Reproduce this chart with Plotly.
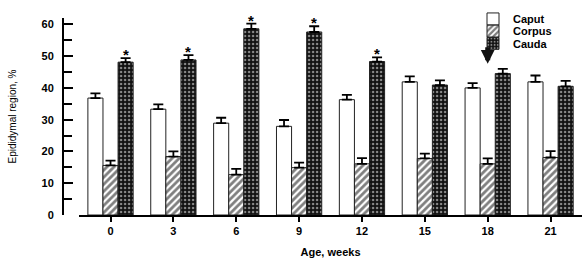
import plotly.graph_objects as go

ages = ["0", "3", "6", "9", "12", "15", "18", "21"]
caput = [36.8, 33.3, 28.9, 27.9, 36.3, 41.9, 40.0, 41.9]
caput_err = [1.5, 1.5, 1.7, 2.0, 1.5, 1.7, 1.5, 2.0]
corpus = [15.6, 18.4, 12.7, 14.9, 16.1, 17.8, 16.1, 18.1]
corpus_err = [1.5, 1.6, 1.8, 1.6, 1.8, 1.5, 1.7, 2.0]
cauda = [48.1, 48.8, 58.6, 57.6, 48.3, 40.9, 44.5, 40.5]
cauda_err = [1.3, 1.5, 1.6, 1.8, 1.3, 1.5, 1.5, 1.7]
significant = ["0", "3", "6", "9", "12"]
arrow_age = "18"

font_family = "Liberation Sans, Arial, sans-serif"

def err(vals):
    return dict(type="data", symmetric=False, array=vals, arrayminus=[0] * len(vals),
                color="black", thickness=1.8, width=5)

fig = go.Figure()
fig.add_trace(go.Bar(name="Caput", x=ages, y=caput, error_y=err(caput_err), legend="legend",
                     marker=dict(color="white", line=dict(color="#222", width=1))))
fig.add_trace(go.Bar(name="Corpus", x=ages, y=corpus, error_y=err(corpus_err), legend="legend2",
                     marker=dict(color="white", line=dict(color="#222", width=1),
                                 pattern=dict(shape="/", fgcolor="black", bgcolor="white",
                                              size=5, solidity=0.55))))
fig.add_trace(go.Bar(name="Cauda", x=ages, y=cauda, error_y=err(cauda_err), legend="legend3",
                     marker=dict(color="black", line=dict(color="#222", width=1),
                                 pattern=dict(shape=".", fgcolor="white", bgcolor="#111",
                                              size=4, solidity=0.3))))

for a in significant:
    i = ages.index(a)
    fig.add_annotation(x=i, y=cauda[i] + cauda_err[i], text="*", showarrow=False,
                       xref="x", yref="y",
                       xshift=15, yanchor="bottom", yshift=-7,
                       font=dict(family=font_family, size=15, color="black", weight="bold"))

i = ages.index(arrow_age)
fig.add_annotation(x=i, y=cauda[i] + cauda_err[i] + 1.6, ax=0, ay=-18,
                   xref="x", yref="y",
                   showarrow=True, arrowhead=2, arrowsize=0.55, arrowwidth=5,
                   arrowcolor="#111", text="")

def leg(ypx):
    return dict(xref="paper", yref="paper", x=0.79, y=(215 - ypx) / 210,
                xanchor="left", yanchor="middle", bgcolor="rgba(0,0,0,0)",
                borderwidth=0, font=dict(size=11, weight="bold"), itemwidth=30)

fig.update_layout(
    width=586, height=260,
    margin=dict(l=63, r=4, t=5, b=45),
    paper_bgcolor="white", plot_bgcolor="white",
    barmode="group", bargap=0.28, bargroupgap=0,
    font=dict(family=font_family, size=11, color="black"),
    showlegend=True,
    legend=leg(6), legend2=leg(19), legend3=leg(32),
    xaxis=dict(type="category", domain=[0.031, 1], range=[-0.5, 7.5], automargin=False,
               showline=True, linecolor="black",
               linewidth=2, ticks="outside", ticklen=5, tickwidth=2, tickcolor="black",
               tickfont=dict(size=11, weight="bold"), showgrid=False, zeroline=False,
               title=dict(text="Age, weeks", font=dict(size=11, weight="bold"), standoff=12)),
    yaxis=dict(anchor="free", position=0, range=[0, 62], automargin=False,
               showline=True, linecolor="black",
               linewidth=2, ticks="inside", ticklen=9, tickwidth=2, tickcolor="black",
               tickvals=[0, 10, 20, 30, 40, 50, 60], ticklabelstandoff=6,
               minor=dict(tickvals=[5, 15, 25, 35, 45, 55], ticks="inside", ticklen=8,
                          tickwidth=2, tickcolor="black"),
               tickfont=dict(size=11, weight="bold"), showgrid=False, zeroline=False,
               title=dict(text="Epididymal region, %",
                          font=dict(family="Liberation Sans Narrow, Arial Narrow, sans-serif", size=10),
                          standoff=22)),
)

fig.write_html("out.html", config={"displayModeBar": False},
               post_script="document.body.style.margin='0';")
